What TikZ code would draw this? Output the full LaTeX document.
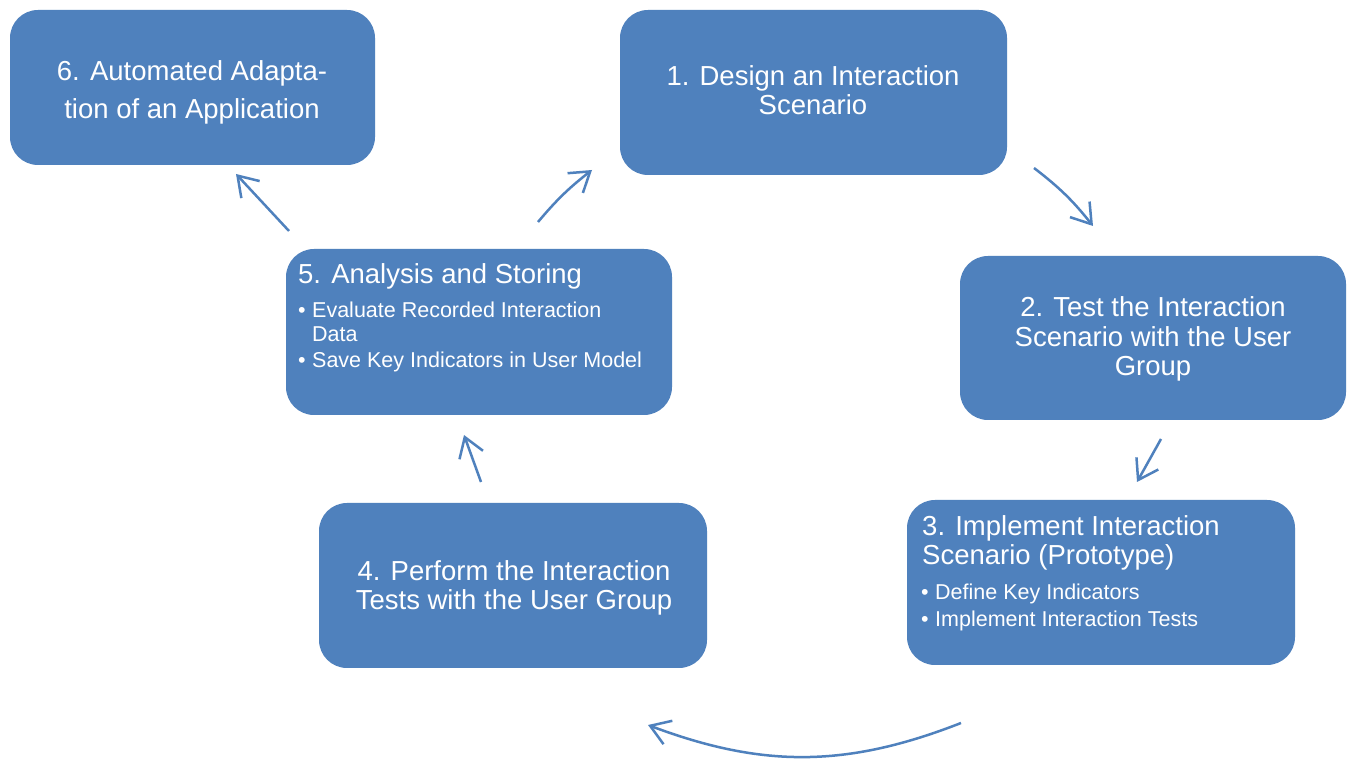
\documentclass[tikz,border=0pt]{standalone}
\usepackage{fontspec}
\setmainfont{Liberation Sans}
\usetikzlibrary{arrows.meta}
\definecolor{boxblue}{HTML}{4F81BD}
\begin{document}
\begin{tikzpicture}[x=1pt,y=1pt,
  stepbox/.style={fill=boxblue, rounded corners=28pt, inner sep=0pt, draw=none},
  ttl/.style={text=white, inner sep=0pt, font=\fontsize{27.5}{28}\selectfont},
  bul/.style={text=white, inner sep=0pt, font=\fontsize{21.5}{24}\selectfont},
  conn/.style={draw=boxblue, line width=2.5pt, -{Straight Barb[length=19pt,width=25pt]}}]
\useasboundingbox (0,0) rectangle (1349,760);
\fill[white] (0,0) rectangle (1349,760);

% boxes
\node[stepbox, minimum width=365pt, minimum height=155pt] (b6) at (192.5,672.5) {};
\node[stepbox, minimum width=387pt, minimum height=165pt] (b1) at (813.5,667.5) {};
\node[stepbox, minimum width=386pt, minimum height=164pt] (b2) at (1153,422) {};
\node[stepbox, minimum width=388pt, minimum height=165pt] (b3) at (1101,177.5) {};
\node[stepbox, minimum width=388pt, minimum height=165pt] (b4) at (513,174.5) {};
\node[stepbox, minimum width=386pt, minimum height=166pt] (b5) at (479,428) {};

% texts
\node[ttl, anchor=base] (t6) at (192,679) {\begin{tabular}[t]{@{}c@{}}6. Automated Adapta-\\[9pt]tion of an Application\end{tabular}};
\node[ttl, anchor=base] (t1) at (813,674) {\begin{tabular}[t]{@{}c@{}}1. Design an Interaction\\Scenario\end{tabular}};
\node[ttl, anchor=base] (t2) at (1153,443) {\begin{tabular}[t]{@{}c@{}}2. Test the Interaction\\[1pt]Scenario with the User\\[1pt]Group\end{tabular}};
\node[ttl, anchor=base] (t4) at (514,179) {\begin{tabular}[t]{@{}c@{}}4. Perform the Interaction\\Tests with the User Group\end{tabular}};
\node[ttl, anchor=base west] (t3) at (922,224) {\begin{tabular}[t]{@{}l@{}}3. Implement Interaction\\Scenario (Prototype)\end{tabular}};
\node[bul, anchor=base west] (l3) at (921,160) {\begin{tabular}[t]{@{}l@{}}\makebox[14pt][l]{•}Define Key Indicators\\[3pt]\makebox[14pt][l]{•}Implement Interaction Tests\end{tabular}};
\node[ttl, anchor=base west] (t5) at (298,476) {5. Analysis and Storing};
\node[bul, anchor=base west] (l5) at (298,442) {\begin{tabular}[t]{@{}l@{}}\makebox[14pt][l]{•}Evaluate Recorded Interaction\\\hspace*{14pt}Data\\[2pt]\makebox[14pt][l]{•}Save Key Indicators in User Model\end{tabular}};

% connector end points
\coordinate (a56s) at (289,529); \coordinate (a56e) at (236,586);
\coordinate (a51s) at (538,538); \coordinate (a51e) at (592,590);
\coordinate (a12s) at (1034,592); \coordinate (a12e) at (1093,534);
\coordinate (a23s) at (1161,321); \coordinate (a23e) at (1137,278);
\coordinate (a34s) at (961,37);  \coordinate (a34e) at (648,35);
\coordinate (a45s) at (481,278); \coordinate (a45e) at (464,325);

\draw[conn] (a56s) -- (a56e);
\draw[conn] (a51s) to[bend left=6] (a51e);
\draw[conn] (a12s) to[bend left=7] (a12e);
\draw[conn] (a23s) -- (a23e);
\draw[conn] (a34s) to[bend left=21] (a34e);
\draw[conn] (a45s) -- (a45e);
\end{tikzpicture}
\end{document}
